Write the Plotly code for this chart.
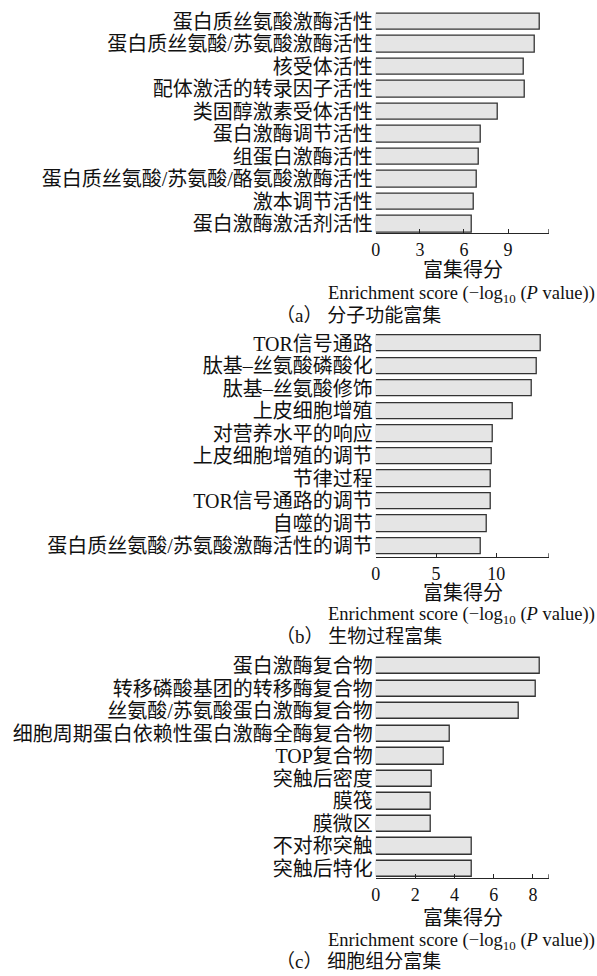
import plotly.graph_objects as go

W, H = 597, 976

# ---- data -----------------------------------------------------------------
mf_terms = [
    "蛋白质丝氨酸激酶活性",
    "蛋白质丝氨酸/苏氨酸激酶活性",
    "核受体活性",
    "配体激活的转录因子活性",
    "类固醇激素受体活性",
    "蛋白激酶调节活性",
    "组蛋白激酶活性",
    "蛋白质丝氨酸/苏氨酸/酪氨酸激酶活性",
    "激本调节活性",
    "蛋白激酶激活剂活性",
]
mf_scores = [11.19, 10.81, 10.09, 10.13, 8.31, 7.15, 7.04, 6.90, 6.70, 6.56]

bp_terms = [
    "TOR信号通路",
    "肽基–丝氨酸磷酸化",
    "肽基–丝氨酸修饰",
    "上皮细胞增殖",
    "对营养水平的响应",
    "上皮细胞增殖的调节",
    "节律过程",
    "TOR信号通路的调节",
    "自噬的调节",
    "蛋白质丝氨酸/苏氨酸激酶活性的调节",
]
bp_scores = [13.74, 13.38, 12.97, 11.43, 9.75, 9.67, 9.59, 9.57, 9.26, 8.74]

cc_terms = [
    "蛋白激酶复合物",
    "转移磷酸基团的转移酶复合物",
    "丝氨酸/苏氨酸蛋白激酶复合物",
    "细胞周期蛋白依赖性蛋白激酶全酶复合物",
    "TOP复合物",
    "突触后密度",
    "膜筏",
    "膜微区",
    "不对称突触",
    "突触后特化",
]
cc_scores = [8.37, 8.15, 7.29, 3.79, 3.45, 2.84, 2.80, 2.80, 4.91, 4.91]

x_max = [11.77, 14.37, 8.80]
x_dtick = [3, 5, 2]
captions = ["（a） 分子功能富集", "（b） 生物过程富集", "（c） 细胞组分富集"]

# ---- layout geometry (pixels) ---------------------------------------------
# first bar centre, last bar centre, x-axis line
panel_px = [(22.0, 224.5, 233.5), (344.3, 547.3, 558.3), (667.5, 870.5, 880.0)]
title_px = [(271.0, 295.0, 316.0), (594.0, 617.0, 637.5), (919.5, 943.0, 963.0)]
x_left, x_right = 374.0, 548.3

SERIF_CJK = "Liberation Serif, Noto Sans CJK SC"
INK = "#262626"

fig = go.Figure()
panels = [(mf_terms, mf_scores), (bp_terms, bp_scores), (cc_terms, cc_scores)]

def py(px):
    return 1 - px / H

for k, (terms, scores) in enumerate(panels):
    n = len(terms)
    pos = [n - 1 - i for i in range(n)]  # first term on top
    first_c, last_c, axis_y = panel_px[k]
    pitch = (last_c - first_c) / (n - 1)
    top_px = first_c - pitch / 2
    y_lo = -(axis_y - last_c) / pitch
    y_hi = n - 0.5

    xa = "x" if k == 0 else f"x{k+1}"
    ya = "y" if k == 0 else f"y{k+1}"
    fig.add_trace(go.Bar(
        x=scores, y=pos, orientation="h", width=0.73,
        marker=dict(color="#e5e5e5", line=dict(color="#333333", width=1.3)),
        xaxis=xa, yaxis=ya, showlegend=False, hoverinfo="skip",
    ))

    xkey = "xaxis" if k == 0 else f"xaxis{k+1}"
    ykey = "yaxis" if k == 0 else f"yaxis{k+1}"
    fig.update_layout(**{
        xkey: dict(
            domain=[x_left / W, x_right / W], anchor=ya,
            range=[0, x_max[k]], dtick=x_dtick[k], tick0=0,
            showline=True, linecolor=INK, linewidth=1.2,
            ticks="inside", ticklen=4, tickwidth=1.2, tickcolor=INK,
            showgrid=False, zeroline=False,
            tickfont=dict(family=SERIF_CJK, size=18, color="#111"),
        ),
        ykey: dict(
            domain=[py(axis_y), py(top_px)], anchor=xa,
            range=[y_lo, y_hi], tickmode="array", tickvals=pos, ticktext=terms,
            showline=False, showgrid=False, zeroline=False, ticks="",
            ticklabelstandoff=2,
            tickfont=dict(family=SERIF_CJK, size=20, color="#111"),
        ),
    })

    # closing tick at the right end of the axis line
    plot_h = axis_y - top_px
    fig.add_shape(type="line", xref=xa, yref=f"{ya} domain",
                  x0=x_max[k], x1=x_max[k], y0=0, y1=4 / plot_h,
                  line=dict(color=INK, width=1.2))

    t1, t2, t3 = title_px[k]
    fig.add_annotation(text="富集得分", x=461.5 / W, y=py(t1), xref="paper", yref="paper",
                       showarrow=False, xanchor="center", yanchor="middle",
                       font=dict(family=SERIF_CJK, size=20, color="#111"))
    fig.add_annotation(text="Enrichment score (−log<sub>10</sub> (<i>P</i> value))",
                       x=597 / W, y=py(t2), xref="paper", yref="paper",
                       showarrow=False, xanchor="right", yanchor="middle",
                       font=dict(family=SERIF_CJK, size=18.5, color="#111"))
    fig.add_annotation(text=captions[k], x=271 / W, y=py(t3), xref="paper", yref="paper",
                       showarrow=False, xanchor="left", yanchor="middle",
                       font=dict(family=SERIF_CJK, size=19, color="#111"))

fig.update_layout(
    width=W, height=H, margin=dict(l=0, r=0, t=0, b=0),
    paper_bgcolor="white", plot_bgcolor="white", bargap=0,
)

fig.write_html("out.html")
